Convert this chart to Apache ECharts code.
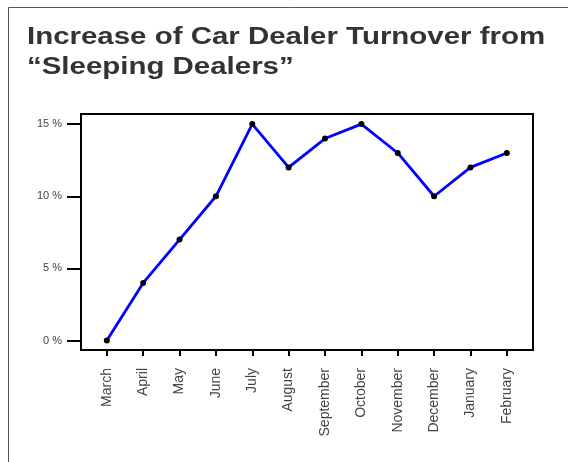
<!DOCTYPE html>
<html>
<head>
<meta charset="utf-8">
<style>
html,body{margin:0;padding:0;background:#fff;}
#chart{width:568px;height:462px;}
</style>
<script src="https://cdn.jsdelivr.net/npm/echarts@6/dist/echarts.min.js"></script>
</head>
<body>
<div id="chart"></div>
<script>
const titleText = 'Increase of Car Dealer Turnover from\n\u201cSleeping Dealers\u201d';
const months = ['March','April','May','June','July','August','September','October','November','December','January','February'];
const turnover = [0, 4, 7, 10, 15, 12, 14, 15, 13, 10, 12, 13];
const yTicks = [0, 5, 10, 15];

const chart = echarts.init(document.getElementById('chart'), null, {renderer: 'canvas'});
chart.setOption({
  animation: false,
  backgroundColor: '#fff',
  graphic: [
    {type: 'line', silent: true, shape: {x1: 8.5, y1: 7.5, x2: 568, y2: 7.5}, style: {stroke: '#555', lineWidth: 1}},
    {type: 'line', silent: true, shape: {x1: 8.5, y1: 7.5, x2: 8.5, y2: 462}, style: {stroke: '#555', lineWidth: 1}},
    {
      type: 'text', silent: true,
      x: 27, y: 23, scaleX: 1.28, scaleY: 1,
      style: {
        text: titleText,
        font: 'bold 23px "Liberation Sans", Arial, sans-serif',
        fill: '#333',
        lineHeight: 30,
        verticalAlign: 'top',
        align: 'left'
      }
    }
  ],
  grid: {
    left: 81, right: 35, top: 114, bottom: 112,
    show: true, borderColor: '#000', borderWidth: 2, backgroundColor: '#fff'
  },
  xAxis: {
    type: 'value',
    min: -0.71,
    max: 11.72,
    splitLine: {show: false},
    axisLine: {show: true, onZero: false, lineStyle: {color: '#000', width: 2}},
    axisTick: {show: true, length: 6, lineStyle: {color: '#000', width: 2}, customValues: months.map((m, i) => i)},
    axisLabel: {
      rotate: 90,
      margin: 18,
      fontSize: 14,
      fontFamily: 'Liberation Sans, Arial, sans-serif',
      color: '#444',
      customValues: months.map((m, i) => i),
      formatter: v => months[Math.round(v)] || ''
    }
  },
  yAxis: {
    type: 'value',
    min: -0.65,
    max: 15.7,
    splitLine: {show: false},
    axisLine: {show: true, onZero: false, lineStyle: {color: '#000', width: 2}},
    axisTick: {show: true, length: 14, lineStyle: {color: '#000', width: 2}, customValues: yTicks},
    axisLabel: {
      margin: 19,
      fontSize: 11,
      fontFamily: 'Liberation Sans, Arial, sans-serif',
      color: '#444',
      customValues: yTicks,
      formatter: v => v + ' %'
    }
  },
  series: [{
    type: 'line',
    data: turnover.map((v, i) => [i, v]),
    lineStyle: {color: '#0000ff', width: 2.8},
    itemStyle: {color: '#000'},
    symbol: 'circle',
    symbolSize: 6,
    z: 3
  }]
});
</script>
</body>
</html>
